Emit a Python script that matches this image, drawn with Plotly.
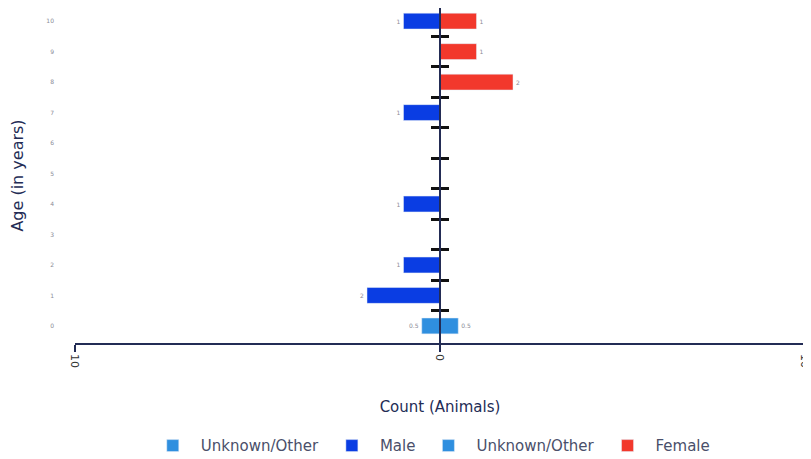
import plotly.graph_objects as go

ages = [0, 1, 2, 3, 4, 5, 6, 7, 8, 9, 10]
male = [0, 2, 1, 0, 1, 0, 0, 1, 0, 0, 1]
female = [0, 0, 0, 0, 0, 0, 0, 0, 2, 1, 1]
unknown = [0.5, 0, 0, 0, 0, 0, 0, 0, 0, 0, 0]

x_tickvals = [-10, 0, 10]
x_ticktext = ["10", "0", "10"]

C_MALE = "#0a3de3"
C_FEMALE = "#f2382c"
C_UNK = "#2f8fdf"
NAVY = "#232c55"
LBL = "#8a8a96"
FONT = "DejaVu Sans, Liberation Sans, sans-serif"


def keep(vals, ys):
    xs, yy = [], []
    for v, y in zip(vals, ys):
        if v:
            xs.append(v)
            yy.append(y)
    return xs, yy


def fmt(v):
    return ("%g" % abs(v))


fig = go.Figure()

ux, uy = keep(unknown, ages)
mx, my = keep(male, ages)
fx, fy = keep(female, ages)

common = dict(orientation="h", width=0.52, textposition="outside",
              textfont=dict(size=6, color=LBL), cliponaxis=False)

fig.add_trace(go.Bar(name="Unknown/Other", x=[-v for v in ux], y=uy,
                     text=[fmt(v) for v in ux], marker_color=C_UNK, **common))
fig.add_trace(go.Bar(name="Male", x=[-v for v in mx], y=my,
                     text=[fmt(v) for v in mx], marker_color=C_MALE, **common))
fig.add_trace(go.Bar(name="Unknown/Other", x=ux, y=uy,
                     text=[fmt(v) for v in ux], marker_color=C_UNK, **common))
fig.add_trace(go.Bar(name="Female", x=fx, y=fy,
                     text=[fmt(v) for v in fx], marker_color=C_FEMALE, **common))

half_ticks = [a + 0.5 for a in ages[:-1]]
yrange = [-0.56, 10.43]

# the page body adds an 8px offset; the figure is sized to fit the window
fig.update_layout(
    width=803, height=451,
    margin=dict(l=67, r=6, t=0, b=116, autoexpand=False),
    paper_bgcolor="white", plot_bgcolor="white",
    barmode="relative",
    font=dict(family=FONT, color=NAVY),
    showlegend=True,
    legend=dict(orientation="h", x=0.486, xanchor="center", y=-0.307, yanchor="middle",
                font=dict(size=15, color="#4a4f6a", family=FONT), itemwidth=46,
                traceorder="normal"),
    xaxis=dict(
        range=[-10, 10], tickvals=x_tickvals, ticktext=x_ticktext,
        tickangle=90, tickfont=dict(size=11, color="#333"),
        ticklabeloverflow="allow",
        showgrid=False, zeroline=False,
        showline=True, linecolor=NAVY, linewidth=1.5,
        ticks="outside", ticklen=7, tickwidth=2, tickcolor=NAVY,
        title=dict(text="Count (Animals)", font=dict(size=15, color=NAVY), standoff=35),
        automargin=False, fixedrange=True,
    ),
    xaxis2=dict(
        range=[-10, 10], tickvals=x_tickvals, overlaying="x", anchor="y",
        side="bottom", showticklabels=False, showgrid=False, zeroline=False,
        ticks="inside", ticklen=7, tickwidth=2, tickcolor=NAVY, showline=False,
        automargin=False,
    ),
    yaxis=dict(
        range=yrange, tickvals=ages, ticktext=[str(a) for a in ages],
        tickfont=dict(size=6, color=LBL), showgrid=False, zeroline=False,
        showline=False, ticks="", ticklabelstandoff=20,
        title=dict(text="Age (in years)", font=dict(size=16, color=NAVY), standoff=22),
        automargin=False,
    ),
    yaxis2=dict(
        range=yrange, tickvals=half_ticks, overlaying="y", anchor="free", position=0.5,
        showticklabels=False, showgrid=False, zeroline=False,
        showline=True, linecolor=NAVY, linewidth=2, layer="above traces",
        ticks="outside", ticklen=8, tickwidth=2.5, tickcolor="#111",
        automargin=False,
    ),
    yaxis3=dict(
        range=yrange, tickvals=half_ticks, overlaying="y", anchor="free", position=0.5,
        showticklabels=False, showgrid=False, zeroline=False, showline=False,
        layer="above traces",
        ticks="inside", ticklen=8, tickwidth=2.5, tickcolor="#111",
        automargin=False,
    ),
)

# invisible helpers to activate overlay axes
fig.add_trace(go.Scatter(x=[0], y=[0], xaxis="x2", yaxis="y2", mode="markers",
                         marker=dict(opacity=0), showlegend=False, hoverinfo="skip"))
fig.add_trace(go.Scatter(x=[0], y=[0], xaxis="x2", yaxis="y3", mode="markers",
                         marker=dict(opacity=0), showlegend=False, hoverinfo="skip"))

fig.write_html("out.html")
